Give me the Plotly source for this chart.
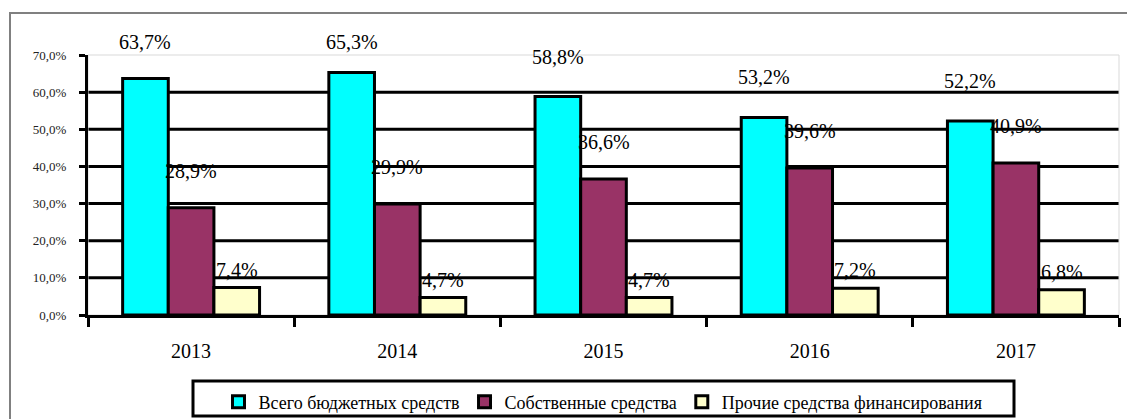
import plotly.graph_objects as go

years = ["2013", "2014", "2015", "2016", "2017"]
series_names = ["Всего бюджетных средств", "Собственные средства", "Прочие средства финансирования"]
budget = [63.7, 65.3, 58.8, 53.2, 52.2]
own = [28.9, 29.9, 36.6, 39.6, 40.9]
other = [7.4, 4.7, 4.7, 7.2, 6.8]
colors = ["#00FFFF", "#993366", "#FFFFCC"]
y_ticks = [0, 10, 20, 30, 40, 50, 60, 70]
y_ticktext = ["0,0%", "10,0%", "20,0%", "30,0%", "40,0%", "50,0%", "60,0%", "70,0%"]
grid_vals = [10, 20, 30, 40, 50, 60]

SERIF = "Liberation Serif"
bargap = 0.336
PLOT_H = 260
Y_MAX = 70
px_per_unit = PLOT_H / Y_MAX
label_off_px = [40, 37, 18]   # label centre above bar top, px
label_cap_px = 3.4 * px_per_unit  # labels can't go higher than this above the 70% line

fig = go.Figure()
all_series = [budget, own, other]
for name, vals, col in zip(series_names, all_series, colors):
    fig.add_trace(go.Bar(
        x=years, y=vals, name=name,
        marker=dict(color=col, line=dict(color="black", width=3)),
    ))

w = (1 - bargap) / 3
annotations = []
for j, vals in enumerate(all_series):
    for i, v in enumerate(vals):
        shift = min(label_off_px[j], (Y_MAX - v) * px_per_unit + label_cap_px)
        annotations.append(dict(
            x=i + (j - 1) * w, y=v, yshift=shift,
            xref="x", yref="y", showarrow=False,
            text=f"{v:.1f}".replace(".", ",") + "%",
            font=dict(family=SERIF, size=20, color="black"),
            xanchor="center", yanchor="middle",
        ))

shapes = []
for g in grid_vals:
    shapes.append(dict(type="line", xref="paper", yref="y", x0=0, x1=1, y0=g, y1=g,
                       line=dict(color="black", width=3), layer="below"))
# plot area border (light)
shapes.append(dict(type="rect", xref="paper", yref="paper", x0=0, x1=1, y0=0, y1=1,
                   line=dict(color="#d9d9d9", width=1), layer="below"))
# outer chart border
shapes.append(dict(type="rect", xref="paper", yref="paper",
                   x0=(10 - 88) / 1031, x1=(1135 - 88) / 1031,
                   y0=(315 - 430) / 260, y1=(315 - 13) / 260,
                   line=dict(color="#808080", width=2), layer="below"))
# legend box
shapes.append(dict(type="rect", xref="paper", yref="paper",
                   x0=(193 - 88) / 1031, x1=(1014 - 88) / 1031,
                   y0=(315 - 416) / 260, y1=(315 - 381) / 260,
                   line=dict(color="black", width=3), layer="above"))

fig.update_layout(
    width=1127, height=419,
    margin=dict(l=88, r=8, t=55, b=104),
    paper_bgcolor="white", plot_bgcolor="white",
    barmode="group", bargap=bargap, bargroupgap=0,
    font=dict(family=SERIF, color="black"),
    showlegend=True,
    legend=dict(orientation="h", xref="container", yref="container",
                x=603 / 1127, xanchor="center",
                y=(419 - 402) / 419, yanchor="middle",
                font=dict(family=SERIF, size=18, color="black"),
                bgcolor="rgba(0,0,0,0)", borderwidth=0),
    annotations=annotations,
    shapes=shapes,
    xaxis=dict(type="category", showgrid=False, showline=True, linecolor="black", linewidth=3,
               ticks="outside", tickson="boundaries", ticklen=9, tickwidth=3, tickcolor="black",
               tickfont=dict(family=SERIF, size=20, color="black"), ticklabelstandoff=16,
               automargin=False),
    yaxis=dict(range=[0, Y_MAX], showgrid=False, zeroline=False, showline=True, linecolor="black",
               linewidth=3, tickvals=y_ticks, ticktext=y_ticktext, ticks="outside", ticklen=6,
               tickwidth=3, tickcolor="black", tickfont=dict(family=SERIF, size=13, color="#222"),
               ticklabelstandoff=10, automargin=False),
)

fig.write_html("out.html", config={"displayModeBar": False},
               post_script="document.body.style.margin='0';document.body.style.overflow='hidden';")
